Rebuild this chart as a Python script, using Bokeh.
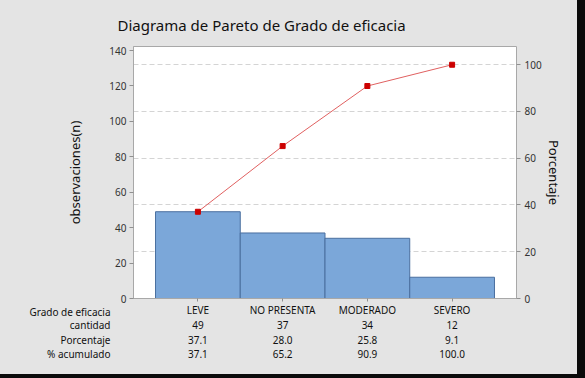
from bokeh.plotting import figure
from bokeh.models import Range1d, LinearAxis, FixedTicker, Grid, Title
from bokeh.core.properties import value
from bokeh.layouts import column
from bokeh.embed import file_html
from bokeh.resources import INLINE

# ---- data ----
categories = ["LEVE", "NO PRESENTA", "MODERADO", "SEVERO"]
cantidad = [49, 37, 34, 12]
porcentaje = [37.1, 28.0, 25.8, 9.1]
acumulado = [37.1, 65.2, 90.9, 100.0]
row_names = ["Grado de eficacia", "cantidad", "Porcentaje", "% acumulado"]
left_ticks = [0, 20, 40, 60, 80, 100, 120, 140]
right_ticks = [0, 20, 40, 60, 80, 100]

total = sum(cantidad)
Y_MAX = 142.3
PCT_MAX = Y_MAX / total * 100
FONT = "Noto Sans"
BG = "#e4e4e4"

xs = list(range(len(categories)))
x_range = Range1d(-0.76, len(categories) - 1 + 0.76)

# ---------------- main chart ----------------
MAIN_H = 304
p = figure(width=577, height=MAIN_H, output_backend="svg", toolbar_location=None,
           x_range=x_range, y_range=Range1d(0, Y_MAX),
           min_border_left=133, min_border_right=61, min_border_top=46,
           min_border_bottom=6)
p.background_fill_color = "white"
p.border_fill_color = BG
p.outline_line_color = "#a8a8a8"
p.extra_y_ranges = {"pct": Range1d(0, PCT_MAX)}
p.grid.visible = False

p.add_layout(Title(text="Diagrama de Pareto de Grado de eficacia", align="left",
                   offset=-16, standoff=23, text_font=FONT, text_font_size="15px",
                   text_font_style="normal", text_color="#111111"), "above")

p.add_layout(Grid(dimension=1, ticker=FixedTicker(ticks=right_ticks[1:]),
                  y_range_name="pct", grid_line_color="#d4d4d4",
                  grid_line_dash="5 3", grid_line_width=1), "center")

p.vbar(x=xs, top=cantidad, width=1.0, fill_color="#7ba7d9",
       line_color="#4a6f9f", line_width=1)

p.line(x=xs, y=acumulado, y_range_name="pct", line_color="#e06060", line_width=1)
p.scatter(x=xs, y=acumulado, y_range_name="pct", marker="square", size=5,
          fill_color="#cc0000", line_color="#cc0000")

for ax in [p.xaxis[0], p.yaxis[0]]:
    ax.axis_line_color = "#a8a8a8"
    ax.major_tick_line_color = "#909090"
    ax.minor_tick_line_color = None
    ax.major_tick_in = 0
    ax.major_tick_out = 4
    ax.major_label_text_font = FONT
    ax.major_label_text_font_size = "10px"
    ax.major_label_text_color = "#333333"

p.yaxis[0].ticker = FixedTicker(ticks=left_ticks)
p.yaxis[0].axis_label = "observaciones(n)"
p.yaxis[0].axis_label_text_font = FONT
p.yaxis[0].axis_label_text_font_style = "normal"
p.yaxis[0].axis_label_text_font_size = "13px"
p.yaxis[0].axis_label_text_color = "#111111"
p.yaxis[0].axis_label_standoff = 22
p.yaxis[0].major_label_standoff = 3

# bottom axis: only the line and the small ticks (labels are in the table)
p.xaxis[0].ticker = FixedTicker(ticks=xs)
p.xaxis[0].major_tick_out = 3
p.xaxis[0].major_label_text_font_size = "0px"
p.xaxis[0].major_label_text_color = None
p.xaxis[0].major_label_standoff = 0

ry = LinearAxis(y_range_name="pct", ticker=FixedTicker(ticks=right_ticks),
                axis_label="Porcentaje")
ry.axis_line_color = None
ry.major_tick_line_color = "#909090"
ry.minor_tick_line_color = None
ry.major_tick_in = 0
ry.major_tick_out = 4
ry.major_label_standoff = 4
ry.major_label_text_font = FONT
ry.major_label_text_font_size = "10px"
ry.major_label_text_color = "#333333"
ry.axis_label_text_font = FONT
ry.axis_label_text_font_style = "normal"
ry.axis_label_text_font_size = "13px"
ry.axis_label_text_color = "#111111"
ry.axis_label_standoff = 0
p.add_layout(ry, "right")

# ---------------- table below ----------------
rows = [
    categories,
    [str(v) for v in cantidad],
    ["%.1f" % v for v in porcentaje],
    ["%.1f" % v for v in acumulado],
]
tx, ty, tt = [], [], []
for r, vals in enumerate(rows):
    for xi, t in zip(xs, vals):
        tx.append(xi)
        ty.append(r)
        tt.append(t)

row_px = 14.8
first_px = 309.5 - MAIN_H
t_h = 374 - MAIN_H
t = figure(width=577, height=t_h, output_backend="svg", toolbar_location=None,
           x_range=x_range,
           y_range=Range1d((t_h - first_px) / row_px, -first_px / row_px),
           min_border_left=133, min_border_right=61, min_border_top=0,
           min_border_bottom=0)
t.background_fill_color = BG
t.border_fill_color = BG
t.outline_line_color = None
t.grid.visible = False
t.xaxis.visible = False
t.text(x=tx, y=ty, text=tt, text_align="center", text_baseline="middle",
       text_font=value(FONT), text_font_size="10px", text_color="#111111")
ya = t.yaxis[0]
ya.ticker = FixedTicker(ticks=list(range(len(row_names))))
ya.major_label_overrides = {i: n for i, n in enumerate(row_names)}
ya.axis_line_color = None
ya.major_tick_line_color = None
ya.minor_tick_line_color = None
ya.major_tick_in = 0
ya.major_tick_out = 0
ya.major_label_standoff = 23
ya.major_label_text_font = FONT
ya.major_label_text_font_size = "10px"
ya.major_label_text_color = "#111111"

layout = column(p, t, width=585, height=378, spacing=0,
                styles={"background-color": BG,
                        "box-shadow": "inset -8px -4px 0 #0a0a0a"})

open("out.html", "w").write(file_html(layout, INLINE))
